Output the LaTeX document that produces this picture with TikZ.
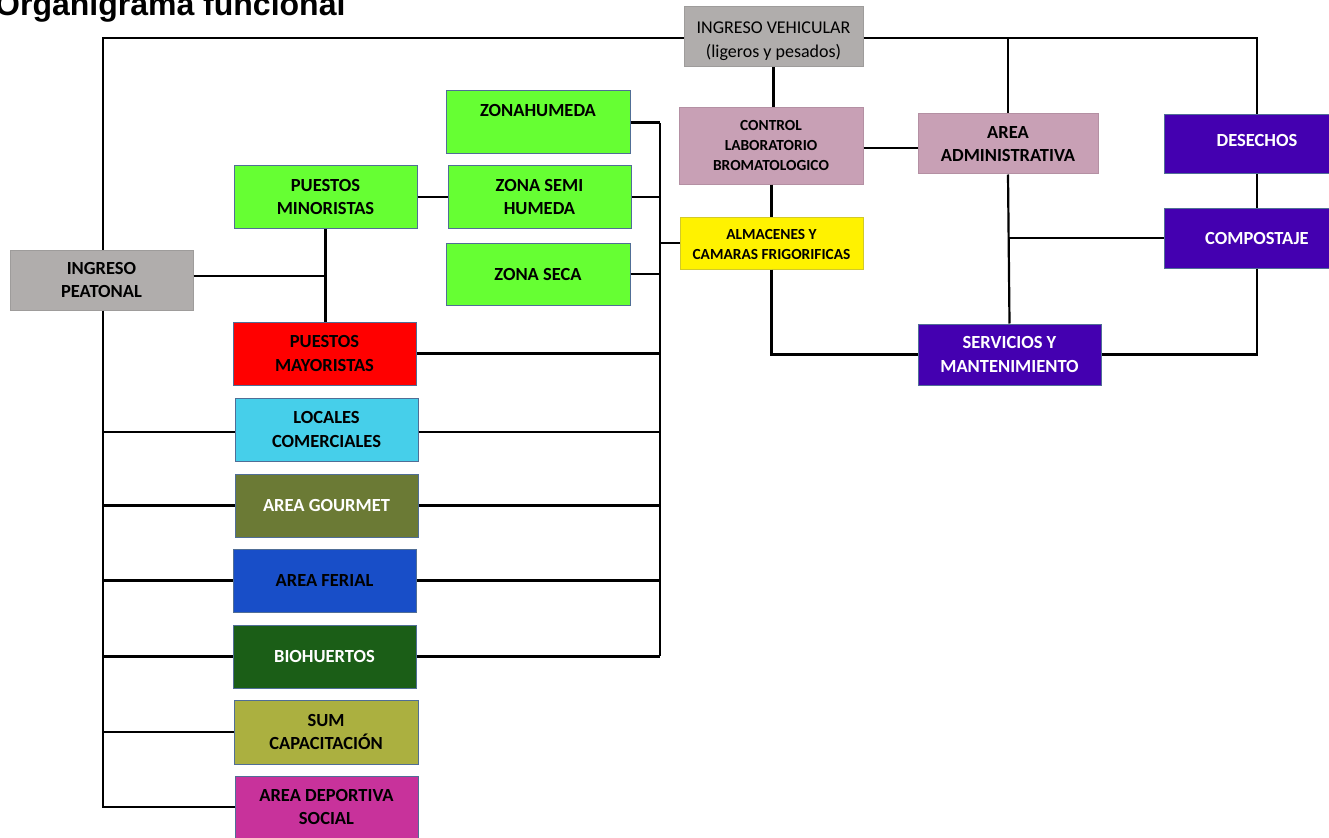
\documentclass[tikz,border=0pt]{standalone}
\usepackage{fontspec}
\setmainfont{Carlito}
\newfontfamily\titlefont{Liberation Sans}
\definecolor{grisbox}{RGB}{176,173,172}
\definecolor{malva}{RGB}{200,160,181}
\definecolor{violeta}{RGB}{68,0,176}
\definecolor{verdeclaro}{RGB}{102,255,51}
\definecolor{rojo}{RGB}{255,0,0}
\definecolor{celeste}{RGB}{70,207,234}
\definecolor{oliva}{RGB}{107,122,53}
\definecolor{azul}{RGB}{24,78,200}
\definecolor{verdeoscuro}{RGB}{27,94,23}
\definecolor{olivaclaro}{RGB}{171,176,64}
\definecolor{magenta}{RGB}{200,50,155}
\definecolor{borde}{RGB}{80,110,150}
\begin{document}
\begin{tikzpicture}[x=1pt,y=-1pt,
  box/.style={draw=borde,line width=1pt,minimum width=183pt,minimum height=62pt,
    inner sep=0pt,align=center,font=\fontsize{18.5}{23.5}\selectfont\bfseries},
  small/.style={font=\fontsize{15.4}{20}\selectfont\bfseries},
  gris/.style={box,fill=grisbox,draw=grisbox!90!black},
  malvabox/.style={box,fill=malva,draw=malva!90!black},
  moradobox/.style={box,fill=violeta,text=white},
  conn/.style={line width=2.2pt,black}]
\useasboundingbox (0,0) rectangle (1329,837);

% title
\node[anchor=base west,inner sep=0pt,font=\titlefont\fontsize{32}{32}\selectfont\bfseries]
  (title) at (-5,16) {Organigrama funcional};

% vehicular side
\node[gris,minimum width=179pt,minimum height=60pt,font=\fontsize{18}{24}\selectfont]
  (iv) at (773.5,37) {\rule{0pt}{20pt}INGRESO VEHICULAR\\(ligeros y pesados)};
\node[malvabox,small,minimum width=184pt,minimum height=76pt] (ctl) at (771,146)
  {CONTROL\\LABORATORIO\\BROMATOLOGICO};
\node[malvabox,minimum width=180pt,minimum height=60pt] (adm) at (1008,144)
  {AREA\\ADMINISTRATIVA};
\node[box,small,fill=yellow,draw=yellow!80!black,minimum width=183pt,minimum height=52pt]
  (alm) at (771.5,243) {\rule{0pt}{14pt}ALMACENES Y\\CAMARAS FRIGORIFICAS};
\node[moradobox,minimum width=186pt,minimum height=59pt] (des) at (1257,144.5)
  {DESECHOS\rule[-8pt]{0pt}{8pt}};
\node[moradobox,minimum width=186pt,minimum height=60pt] (comp) at (1257,238) {COMPOSTAJE};
\node[moradobox,minimum width=183pt,minimum height=61pt] (serv) at (1009.5,354.5)
  {SERVICIOS Y\\MANTENIMIENTO};

% zones
\node[box,fill=verdeclaro,minimum width=184pt,minimum height=63pt] (zh) at (538,122.5)
  {ZONAHUMEDA\\\mbox{}};
\node[box,fill=verdeclaro,minimum width=183pt,minimum height=62pt] (zsh) at (539.5,197)
  {ZONA SEMI\\HUMEDA};
\node[box,fill=verdeclaro,minimum width=184pt,minimum height=62pt] (zs) at (538,274)
  {ZONA SECA};
\node[box,fill=verdeclaro] (min) at (325.5,197) {PUESTOS\\MINORISTAS};

% pedestrian side
\node[gris,minimum width=183pt,minimum height=60pt] (pe) at (101.5,280) {INGRESO\\PEATONAL};
\node[box,fill=rojo,minimum height=63pt] (may) at (324.5,353.5) {PUESTOS\\MAYORISTAS};
\node[box,fill=celeste,minimum height=63pt] (loc) at (326.5,429.5) {LOCALES\\COMERCIALES};
\node[box,fill=oliva,text=white,minimum height=63pt] (gou) at (326.5,505.5) {AREA GOURMET};
\node[box,fill=azul,minimum height=63pt] (fer) at (324.5,580.5) {AREA FERIAL};
\node[box,fill=verdeoscuro,text=white,minimum height=63pt] (bio) at (324.5,656.5) {BIOHUERTOS};
\node[box,fill=olivaclaro,minimum width=184pt,minimum height=64pt] (sum) at (326,732)
  {SUM\\CAPACITACIÓN};
\node[box,fill=magenta,minimum height=62pt] (dep) at (326.5,807) {AREA DEPORTIVA\\SOCIAL};

% junction points
\coordinate (tl) at (103,38);
\coordinate (busT) at (660,123);
\coordinate (busB) at (660,656);

% connectors
\draw[conn] (pe.north -| tl) -- (tl) -- (iv.west |- tl);
\draw[conn] (pe.south -| tl) -- (tl |- dep.west) -- (dep.west);
\draw[conn] (tl |- 0,432) -- (loc.west |- 0,432);
\foreach \n in {gou,fer,bio,sum}
  \draw[conn] (tl |- \n.west) -- (\n.west);
\draw[conn] (iv.east |- tl) -- (des.north |- tl) -- (des.north);
\draw[conn] (adm.north |- tl) -- (adm.north);
\draw[conn] (des.south) -- (comp.north);
\draw[conn] (comp.south) -- (comp.south |- serv.east) -- (serv.east);
\draw[conn] (iv.south) -- (iv.south |- ctl.north);
\draw[conn] (ctl.east |- 0,148) -- (adm.west |- 0,148);
\draw[conn] (ctl.south -| alm.north) -- (alm.north);
\draw[conn] (alm.south) -- (alm.south |- serv.west) -- (serv.west);
\draw[conn] (adm.south) -- (serv.north);
\draw[conn] (adm.south |- comp.west) -- (comp.west);

\draw[conn] (busT) -- (busB);
\foreach \n in {zh,zsh,zs}
  \draw[conn] (\n.east) -- (\n.east -| busT);
\draw[conn] (busT |- alm.west) -- (alm.west);
\draw[conn] (loc.east |- 0,432) -- (busT |- 0,432);
\foreach \n in {may,gou,fer,bio}
  \draw[conn] (\n.east) -- (\n.east -| busT);
\draw[conn] (min.east) -- (zsh.west);
\draw[conn] (pe.east |- 0,276) -- (min.south |- 0,276);
\draw[conn] (min.south) -- (min.south |- may.north);
\end{tikzpicture}
\end{document}
